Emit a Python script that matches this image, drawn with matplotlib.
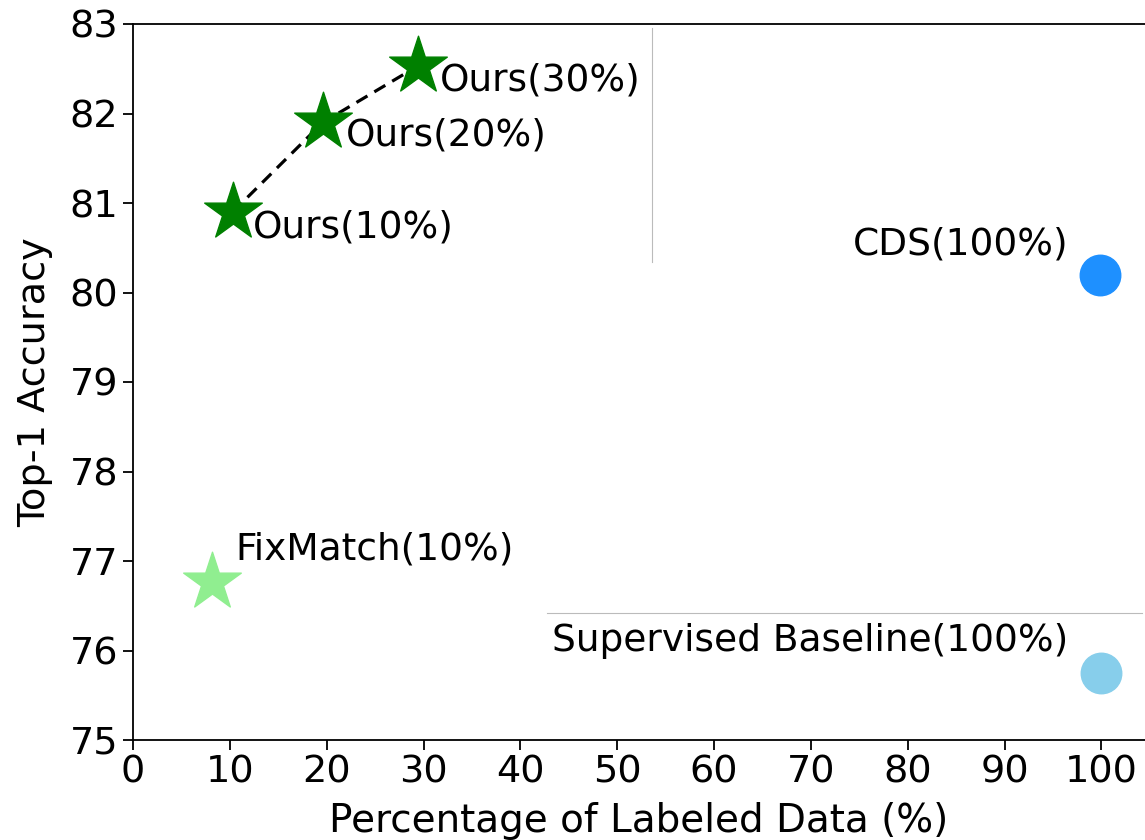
import matplotlib
matplotlib.use('Agg')
import matplotlib.pyplot as plt
from matplotlib.lines import Line2D

# data
ours_x = [10.3, 19.6, 29.4]
ours_y = [80.9, 81.9, 82.53]
ours_labels = ['Ours(10%)', 'Ours(20%)', 'Ours(30%)']

fix_x, fix_y = 8.2, 76.77
cds_x, cds_y = 99.9, 80.2
sup_x, sup_y = 100.0, 75.75

xticks = list(range(0, 101, 10))
yticks = list(range(75, 84))

W, H = 1145, 840
fig = plt.figure(figsize=(W / 100, H / 100), dpi=100)
ax = fig.add_axes([133 / W, 100 / H, (W - 133) / W, (740 - 24) / H])

ax.plot(ours_x, ours_y, 'k--', lw=2.3, dashes=(4, 2.5), zorder=2)
ax.scatter(ours_x, ours_y, marker='*', s=1900, color='green', zorder=3)
ax.scatter([fix_x], [fix_y], marker='*', s=1900, color='lightgreen', zorder=3)
ax.scatter([cds_x], [cds_y], marker='o', s=850, color='dodgerblue', zorder=3)
ax.scatter([sup_x], [sup_y], marker='o', s=850, color='skyblue', zorder=3)

fs = 27
offs = [(20, -16), (23, -13), (22, -14)]
for x, y, lab, o in zip(ours_x, ours_y, ours_labels, offs):
    ax.annotate(lab, (x, y), xytext=o, textcoords='offset pixels',
                ha='left', va='center', fontsize=fs)
ax.annotate('FixMatch(10%)', (fix_x, fix_y), xytext=(23, 32),
            textcoords='offset pixels', ha='left', va='center', fontsize=fs)
ax.annotate('CDS(100%)', (cds_x, cds_y), xytext=(-32, 30),
            textcoords='offset pixels', ha='right', va='center', fontsize=fs)
ax.annotate('Supervised Baseline(100%)', (sup_x, sup_y), xytext=(-33, 32),
            textcoords='offset pixels', ha='right', va='center', fontsize=fs)

ax.set_xlim(0, 104.5)
ax.set_ylim(75, 83)
ax.set_xticks(xticks)
ax.set_yticks(yticks)
ax.tick_params(labelsize=27.5, length=7, width=1.3)
for s in ax.spines.values():
    s.set_linewidth(1.3)
ax.spines['right'].set_visible(False)

ax.set_xlabel('Percentage of Labeled Data (%)', fontsize=28, labelpad=8)
ax.set_ylabel('Top-1 Accuracy', fontsize=27.5, labelpad=12)

# faint guide lines seen in the reference
fig.add_artist(Line2D([652 / W, 652 / W], [1 - 28 / H, 1 - 262 / H],
                      transform=fig.transFigure, color='#bbbbbb', lw=0.8))
fig.add_artist(Line2D([547 / W, 1142 / W], [1 - 613 / H, 1 - 613 / H],
                      transform=fig.transFigure, color='#bbbbbb', lw=0.8))

fig.savefig('out.png', dpi=100)
